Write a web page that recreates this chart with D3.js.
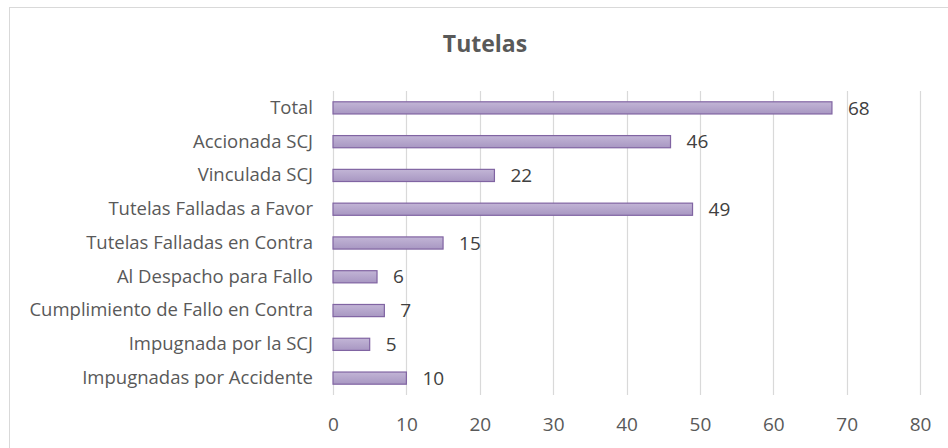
<!DOCTYPE html>
<html>
<head>
<meta charset="utf-8">
<script src="https://cdn.jsdelivr.net/npm/d3@7"></script>
<style>
  body { margin: 0; background: #fff; }
  text { font-family: "Open Sans", "Liberation Sans", sans-serif; }
</style>
</head>
<body>
<div id="chart"></div>
<script>
// data
const categories = [
  "Total",
  "Accionada SCJ",
  "Vinculada SCJ",
  "Tutelas Falladas a Favor",
  "Tutelas Falladas en Contra",
  "Al Despacho para Fallo",
  "Cumplimiento de Fallo en Contra",
  "Impugnada por la SCJ",
  "Impugnadas por Accidente"
]
const values = [68, 46, 22, 49, 15, 6, 7, 5, 10]
const xTicks = [0, 10, 20, 30, 40, 50, 60, 70, 80]

const width = 948
const height = 448
const plot = { left: 333, right: 920, top: 91, bottom: 395 }

const svg = d3.select("#chart").append("svg")
  .attr("width", width)
  .attr("height", height)

// chart frame
svg.append("rect")
  .attr("x", 9.5).attr("y", 7.5)
  .attr("width", 960).attr("height", 460)
  .attr("fill", "#fff")
  .attr("stroke", "#d9d9d9")

const defs = svg.append("defs")
const grad = defs.append("linearGradient")
  .attr("id", "barFill")
  .attr("x1", 0).attr("y1", 0).attr("x2", 0).attr("y2", 1)
grad.append("stop").attr("offset", "0%").attr("stop-color", "#c2b5d6")
grad.append("stop").attr("offset", "100%").attr("stop-color", "#a897c2")

// scales
const xScale = d3.scaleLinear().domain([0, 80]).range([plot.left, plot.right])
const yScale = d3.scaleBand()
  .domain(categories)
  .range([plot.top, plot.bottom])
  .paddingInner(0.64)
  .paddingOuter(0.32)

// gridlines
svg.append("g")
  .selectAll("line")
  .data(xTicks)
  .enter()
  .append("line")
  .attr("x1", (d) => Math.round(xScale(d)) + 0.5)
  .attr("x2", (d) => Math.round(xScale(d)) + 0.5)
  .attr("y1", plot.top)
  .attr("y2", plot.bottom)
  .attr("stroke", "#d9d9d9")
  .attr("stroke-width", 1.2)

// x axis
const xAxis = d3.axisBottom(xScale).tickValues(xTicks).tickSize(0).tickPadding(23)
const gx = svg.append("g")
  .attr("transform", `translate(0, ${plot.bottom})`)
  .call(xAxis)
gx.select(".domain").remove()
gx.selectAll("text")
  .attr("font-size", 19)
  .attr("fill", "#595959")
  .style("font-family", "'Open Sans', sans-serif")

// y axis
const yAxis = d3.axisLeft(yScale).tickSize(0).tickPadding(20)
const gy = svg.append("g")
  .attr("transform", `translate(${plot.left}, 0)`)
  .call(yAxis)
gy.select(".domain").remove()
gy.selectAll("text")
  .attr("font-size", 18.5)
  .attr("fill", "#595959")
  .style("font-family", "'Open Sans', sans-serif")

// bars
svg.append("g")
  .selectAll("rect")
  .data(values)
  .enter()
  .append("rect")
  .attr("x", xScale(0))
  .attr("y", (d, i) => yScale(categories[i]))
  .attr("width", (d) => xScale(d) - xScale(0))
  .attr("height", yScale.bandwidth())
  .attr("fill", "url(#barFill)")
  .attr("stroke", "#8064a2")
  .attr("stroke-width", 1.2)

// value labels
svg.append("g")
  .selectAll("text")
  .data(values)
  .enter()
  .append("text")
  .attr("x", (d) => xScale(d) + 16)
  .attr("y", (d, i) => yScale(categories[i]) + yScale.bandwidth() / 2)
  .attr("dy", "0.35em")
  .attr("font-size", 19)
  .attr("fill", "#404040")
  .text((d) => d)

// title
svg.append("text")
  .attr("x", 485)
  .attr("y", 52)
  .attr("text-anchor", "middle")
  .attr("font-size", 23)
  .attr("font-weight", "bold")
  .attr("fill", "#595959")
  .text("Tutelas")
</script>
</body>
</html>
